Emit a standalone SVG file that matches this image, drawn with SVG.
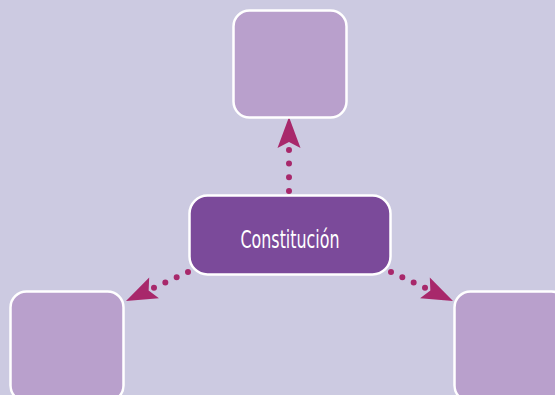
<svg xmlns="http://www.w3.org/2000/svg" width="555" height="395" viewBox="0 0 555 395">
  <style>
    .box { fill: #b9a0cc; stroke: #ffffff; stroke-width: 2.5; }
    .main { fill: #7b4a9a; stroke: #ffffff; stroke-width: 2.5; }
    .dots { fill: none; stroke: #a8286b; stroke-width: 6; stroke-linecap: round; }
    .head { fill: #a8286b; }
    .label { font-family: "DejaVu Sans Condensed", "DejaVu Sans", sans-serif; font-size: 25px; fill: #ffffff; }
  </style>
  <defs>
    <path id="ah" d="M0,0 L-31,-11.5 L-25,0 L-31,11.5 Z"/>
  </defs>
  <rect width="555" height="395" fill="#cccae1"/>
  <g id="connectors">
    <path class="dots" stroke-dasharray="0 13.7" d="M289,191 L289,149"/>
    <use href="#ah" class="head" transform="translate(289,117) rotate(-90)"/>
    <path class="dots" stroke-dasharray="0 12.5" d="M188,272 L152.5,288.5"/>
    <use href="#ah" class="head" transform="translate(126,301) rotate(154.9)"/>
    <path class="dots" stroke-dasharray="0 12.5" d="M391,272 L426.5,288.5"/>
    <use href="#ah" class="head" transform="translate(453,301) rotate(25.1)"/>
  </g>
  <g id="node-top">
    <rect class="box" x="233.5" y="10.5" width="113" height="107" rx="16"/>
  </g>
  <g id="node-center">
    <rect class="main" x="189.5" y="195.5" width="201" height="79" rx="18"/>
    <text class="label" x="290" y="248" text-anchor="middle" textLength="99" lengthAdjust="spacingAndGlyphs">Constitución</text>
  </g>
  <g id="node-left">
    <rect class="box" x="10.5" y="291.5" width="113" height="110" rx="16"/>
  </g>
  <g id="node-right">
    <rect class="box" x="454.5" y="291.5" width="113" height="110" rx="16"/>
  </g>
</svg>
